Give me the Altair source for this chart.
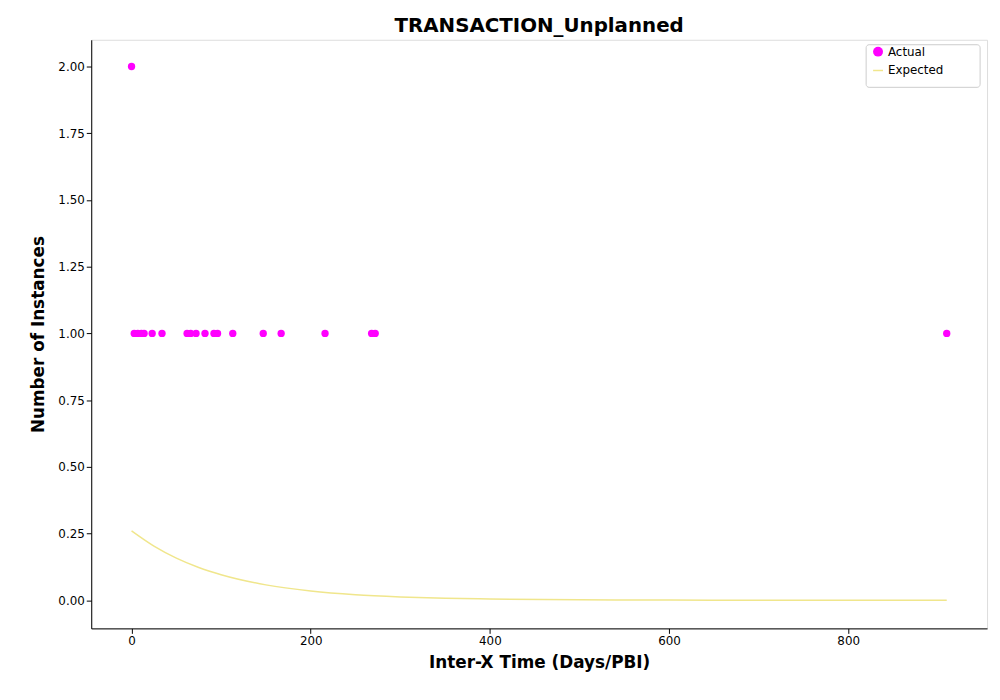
import altair as alt
import pandas as pd

actual_x = [0, 3, 7, 11, 14, 23, 34, 62, 66, 72, 82, 92, 96, 113, 147, 167, 216, 268, 272, 910]
actual_y = [2, 1, 1, 1, 1, 1, 1, 1, 1, 1, 1, 1, 1, 1, 1, 1, 1, 1, 1, 1]
exp_x = [0, 25, 50, 75, 100, 150, 200, 250, 300, 350, 400, 500, 600, 700, 800, 910]
exp_y = [0.26, 0.203, 0.158, 0.123, 0.096, 0.058, 0.035, 0.021, 0.013, 0.008, 0.005, 0.002, 0.001, 0.0003, 0.0001, 0.0]

a = pd.DataFrame({"x": actual_x, "y": actual_y, "s": "Actual"})
e = pd.DataFrame({"x": exp_x, "y": exp_y, "t": "Expected"})

xs = alt.Scale(domain=[-45, 955], nice=False, zero=False)
ys = alt.Scale(domain=[-0.105, 2.1], nice=False, zero=False)
xa = alt.Axis(title="Inter-X Time (Days/PBI)", values=[0, 200, 400, 600, 800], grid=False,
              titleFontSize=17, titleFontWeight="bold", labelFontSize=12, titlePadding=8)
ya = alt.Axis(title="Number of Instances", values=[0, 0.25, 0.5, 0.75, 1, 1.25, 1.5, 1.75, 2],
              format=".2f", grid=False, titleFontSize=17, titleFontWeight="bold", labelFontSize=12, titlePadding=10)

line = alt.Chart(e).mark_line(strokeWidth=1.5, interpolate="monotone").encode(
    x=alt.X("x:Q", scale=xs, axis=xa), y=alt.Y("y:Q", scale=ys, axis=ya),
    color=alt.Color("t:N", scale=alt.Scale(domain=["Expected"], range=["#f0e68c"]),
                    legend=alt.Legend(title=None, orient="none", legendX=788, legendY=25,
                                      symbolType="stroke", labelFontSize=12, symbolStrokeWidth=1.5)))
pts = alt.Chart(a).mark_circle(size=55, opacity=1).encode(
    x=alt.X("x:Q", scale=xs), y=alt.Y("y:Q", scale=ys),
    color=alt.Color("s:N", scale=alt.Scale(domain=["Actual"], range=["#ff00ff"]),
                    legend=alt.Legend(title=None, orient="none", legendX=788, legendY=6,
                                      symbolType="circle", labelFontSize=12)))

box = alt.Chart(pd.DataFrame({"a": [0]})).mark_rect(fill="white", stroke="#ccc", cornerRadius=3).encode(
    x=alt.value(782), x2=alt.value(897), y=alt.value(5), y2=alt.value(48))

chart = alt.layer(box, line, pts).resolve_scale(color="independent").properties(
    width=904, height=594, padding={"left": 22, "top": 5, "right": 5, "bottom": 5},
    title=alt.Title("TRANSACTION_Unplanned", fontSize=20, fontWeight="bold")
).configure_view(stroke="black").configure(font="DejaVu Sans").configure_axis(
    domainColor="black", tickColor="black", labelColor="black", titleColor="black")

chart.save("out.html", embed_options={"renderer": "svg", "actions": False})
